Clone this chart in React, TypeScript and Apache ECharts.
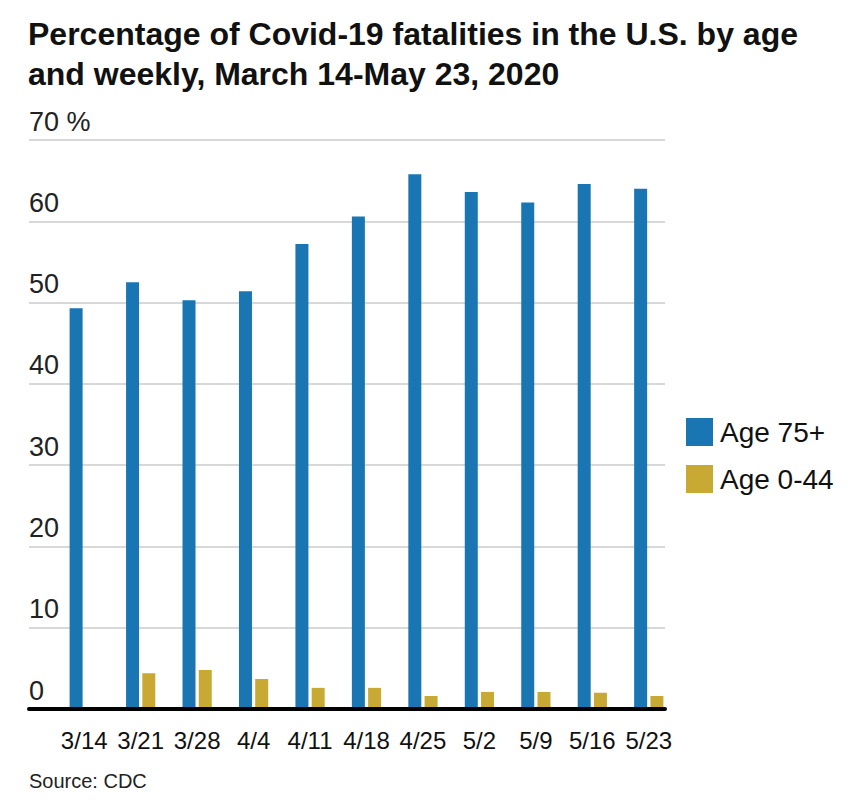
import React, { useEffect, useRef } from "react";
import * as echarts from "echarts";

const categories = ["3/14", "3/21", "3/28", "4/4", "4/11", "4/18", "4/25", "5/2", "5/9", "5/16", "5/23"];
const age75Plus = [49.3, 52.5, 50.3, 51.4, 57.2, 60.6, 65.8, 63.6, 62.3, 64.6, 64.0];
const age0to44 = [0, 4.4, 4.8, 3.7, 2.6, 2.6, 1.6, 2.1, 2.1, 2.0, 1.6];
const seriesNames = ["Age 75+", "Age 0-44"];
const yTicks = [0, 10, 20, 30, 40, 50, 60, 70];

const FONT = "'Liberation Sans', Arial, sans-serif";

export default function App() {
  const ref = useRef<HTMLDivElement>(null);
  useEffect(() => {
    document.body.style.margin = "0";
    const chart = echarts.init(ref.current!, null, { renderer: "svg" });
    const yMin = yTicks[0];
    const yMax = yTicks[yTicks.length - 1];
    chart.setOption({
      animation: false,
      backgroundColor: "#ffffff",
      title: [
        {
          text: "Percentage of Covid-19 fatalities in the U.S. by age\nand weekly, March 14-May 23, 2020",
          left: 23,
          top: 9,
          textStyle: { fontFamily: FONT, fontWeight: "bold", fontSize: 32, lineHeight: 40, color: "#111" },
        },
        {
          text: "Source: CDC",
          left: 24,
          top: 766,
          textStyle: { fontFamily: FONT, fontWeight: "normal", fontSize: 20, color: "#222" },
        },
      ],
      legend: {
        orient: "vertical",
        left: 681,
        top: 413,
        itemWidth: 27,
        itemHeight: 28,
        itemGap: 19,
        icon: "rect",
        data: seriesNames,
        textStyle: { fontFamily: FONT, fontSize: 28, color: "#111", padding: [0, 0, 0, 2] },
      },
      grid: [
        { left: 29, right: 199, top: 140, bottom: 103 },
        { left: 56, right: 187, top: 140, bottom: 103 },
      ],
      xAxis: [
        {
          gridIndex: 0,
          type: "value",
          min: 0,
          max: 1,
          axisLine: { show: true, lineStyle: { color: "#000", width: 4 } },
          axisTick: { show: false },
          axisLabel: { show: false },
          splitLine: { show: false },
          z: 5,
        },
        {
          gridIndex: 1,
          type: "category",
          data: categories,
          axisLine: { show: false },
          axisTick: { show: false },
          axisLabel: { interval: 0, fontFamily: FONT, fontSize: 24, color: "#111", margin: 19 },
        },
      ],
      yAxis: [
        {
          gridIndex: 0,
          type: "value",
          min: yMin,
          max: yMax,
          interval: 10,
          axisLine: { show: false },
          axisTick: { show: false },
          axisLabel: {
            inside: true,
            margin: 0,
            verticalAlign: "bottom",
            padding: [0, 0, 5, 0],
            fontFamily: FONT,
            fontSize: 27,
            color: "#222",
            formatter: (v: number) => (v === yMax ? `${v} %` : `${v}`),
          },
          splitLine: { show: true, lineStyle: { color: "#d8d8d8", width: 2 } },
        },
        {
          gridIndex: 1,
          type: "value",
          min: yMin,
          max: yMax,
          show: false,
        },
      ],
      series: [
        {
          name: seriesNames[0],
          type: "bar",
          xAxisIndex: 1,
          yAxisIndex: 1,
          data: age75Plus,
          barWidth: 13,
          barGap: "25%",
          itemStyle: { color: "#1a76b3" },
        },
        {
          name: seriesNames[1],
          type: "bar",
          xAxisIndex: 1,
          yAxisIndex: 1,
          data: age0to44,
          barWidth: 13,
          barGap: "25%",
          itemStyle: { color: "#c8a934" },
        },
      ],
    });
    return () => chart.dispose();
  }, []);
  return <div ref={ref} style={{ width: 864, height: 812 }} />;
}
